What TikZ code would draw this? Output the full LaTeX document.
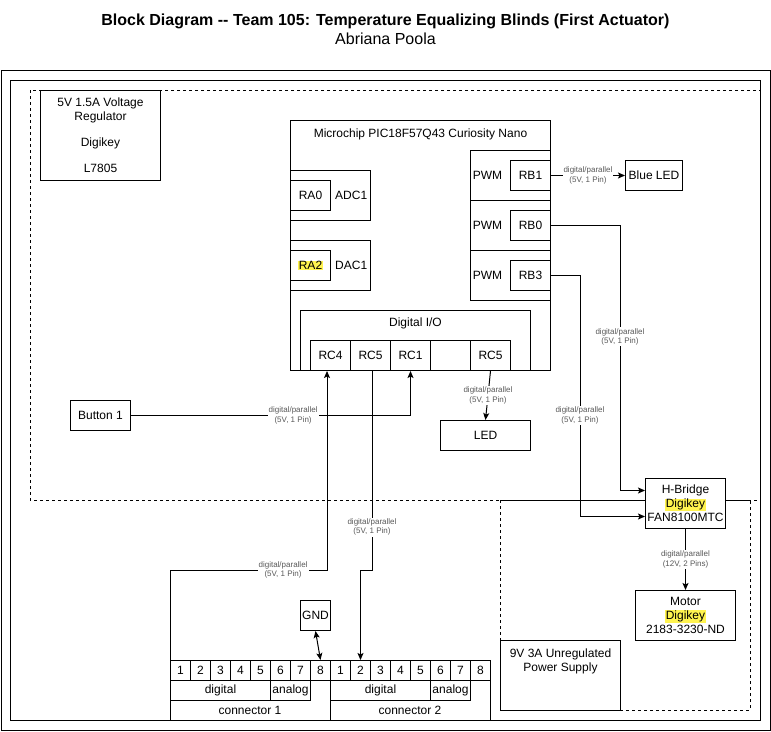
\documentclass[tikz,border=0pt]{standalone}
\usepackage{fontspec}
\setmainfont{Liberation Sans}
\usetikzlibrary{arrows.meta, positioning}

\definecolor{hiliteyellow}{HTML}{FFF34F}
\newcommand{\hilite}[1]{{\setlength{\fboxsep}{0.6pt}\colorbox{hiliteyellow}{#1}}}

\begin{document}
\begin{tikzpicture}[
        x=1pt, y=-1pt,
        >={Stealth[length=7pt, width=6pt, inset=1.5pt]},
        every node/.style={font=\fontsize{12}{14}\selectfont, inner sep=0.5pt},
        box/.style={rectangle, draw, fill=white, line width=1pt, align=center},
        pinbox/.style={box, anchor=north west, minimum width=20pt, minimum height=20pt},
        outline/.style={line width=1pt},
        zone/.style={line width=1pt, dash pattern=on 3pt off 3pt},
        lbl/.style={font=\fontsize{8}{9.3}\selectfont, text=black!65, fill=white, align=center, inner sep=1pt},
        arrow/.style={->, line width=1pt},
        dblarrow/.style={<->, line width=1pt}
    ]
        \useasboundingbox (0,0) rectangle (771,731);

        % title
        \node[font=\bfseries\fontsize{16}{19}\selectfont] (title) at (385.5,21) {Block Diagram -{}- Team 105: Temperature Equalizing Blinds (First Actuator)};
        \node[font=\fontsize{16}{19}\selectfont, below=3pt of title] (author) {Abriana Poola};

        % frames and supply zones
        \draw[outline] (1,70) rectangle (770,730);
        \draw[outline] (10,80) rectangle (760,720);
        \draw[zone] (30,90) rectangle (760,500);
        \draw[zone] (500,500) rectangle (750,710);

        \node[box, anchor=north west, minimum width=120pt, minimum height=90pt] (reg) at (40,90) {5V 1.5A Voltage\\Regulator\\[12pt]Digikey\\[12pt]L7805};

        % microcontroller
        \node[box, anchor=north west, minimum width=260pt, minimum height=250pt] (mcu) at (290,120) {};
        \node[below=8pt of mcu.north] (mcutitle) {Microchip PIC18F57Q43 Curiosity Nano};

        \node[box, anchor=north west, minimum width=80pt, minimum height=50pt] (adc) at (290,170) {};
        \node[box, anchor=north west, minimum width=40pt, minimum height=30pt] (ra0) at (290,180) {RA0};
        \node[right=0pt of ra0, minimum width=40pt] (adc1) {ADC1};
        \node[box, anchor=north west, minimum width=80pt, minimum height=50pt] (dac) at (290,240) {};
        \node[box, anchor=north west, minimum width=40pt, minimum height=30pt] (ra2) at (290,250) {\hilite{RA2}};
        \node[right=0pt of ra2, minimum width=40pt] (dac1) {DAC1};

        \foreach \y/\pin/\txt [count=\k] in {150/rb1/RB1, 200/rb0/RB0, 250/rb3/RB3} {
            \node[box, anchor=north west, minimum width=80pt, minimum height=50pt] (pwmbox\k) at (470,\y) {};
            \node[box, anchor=north west, minimum width=40pt, minimum height=30pt] (\pin) at (510,\y+10) {\txt};
            \node (pwmlbl\k) at (487.5,\y+25) {PWM};
        }

        \node[box, anchor=north west, minimum width=230pt, minimum height=60pt] (dio) at (300,310) {};
        \node[below=7pt of dio.north] (diolbl) {Digital I/O};
        \foreach \x/\pin/\txt in {310/rc4/RC4, 350/rc5/RC5, 390/rc1/RC1, 430/rcx/{}, 470/rc5b/RC5} {
            \node[box, anchor=north west, minimum width=40pt, minimum height=30pt] (\pin) at (\x,340) {\txt};
        }

        % peripherals
        \node[box, anchor=north west, minimum width=57pt, minimum height=30pt] (blueled) at (625,160) {Blue LED};
        \node[box, anchor=north west, minimum width=60pt, minimum height=30pt] (btn) at (70,400) {Button 1};
        \node[box, anchor=north west, minimum width=90pt, minimum height=30pt] (led) at (440,420) {LED};
        \node[box, anchor=north west, minimum width=80pt, minimum height=50pt] (hb) at (645,478) {H-Bridge\\\hilite{Digikey}\\FAN8100MTC};
        \node[box, anchor=north west, minimum width=100pt, minimum height=50pt] (motor) at (635,590) {Motor\\\hilite{Digikey}\\2183-3230-ND};
        \node[box, anchor=north west, minimum width=30pt, minimum height=30pt] (gnd) at (300,600) {GND};
        \node[box, anchor=north west, minimum width=120pt, minimum height=70pt] (psu) at (500,640) {};
        \node[below=8pt of psu.north, align=center] (psulbl) {9V 3A Unregulated\\Power Supply};

        % connectors
        \foreach \c/\x in {1/170, 2/330} {
            \node[box, anchor=north west, minimum width=160pt, minimum height=60pt] (conn\c) at (\x,660) {};
            \node[box, anchor=north west, minimum width=100pt, minimum height=20pt] (dig\c) at (\x,680) {digital};
            \node[box, anchor=north west, minimum width=40pt, minimum height=20pt] (ana\c) at (\x+100,680) {analog};
            \node (connlbl\c) at (\x+80,710) {connector \c};
        }
        \foreach \n in {1,...,16} {
            \pgfmathtruncatemacro{\num}{mod(\n-1,8)+1}
            \node[pinbox] (p\n) at (150+20*\n,660) {\num};
        }

        % links
        \coordinate (bend1) at (327,570);
        \coordinate (bend2) at (372,570);
        \coordinate (hbin1) at ([yshift=13pt]hb.west);
        \coordinate (hbin2) at ([yshift=-13pt]hb.west);

        \draw[arrow] (rb1.east) -- node[lbl]{digital/parallel\\(5V, 1 Pin)} (blueled.west);
        \draw[arrow] (rb0.east) -| node[lbl, pos=0.71]{digital/parallel\\(5V, 1 Pin)} ([xshift=-25pt]hbin1) -- (hbin1);
        \draw[arrow] (rb3.east) -| node[lbl, pos=0.79]{digital/parallel\\(5V, 1 Pin)} ([xshift=-65pt]hbin2) -- (hbin2);
        \draw[arrow] (hb.south) -- node[lbl]{digital/parallel\\(12V, 2 Pins)} (motor.north);
        \draw[arrow] (rc5b.south) -- node[lbl]{digital/parallel\\(5V, 1 Pin)} (led.north);
        \draw[arrow] (btn.east) -| node[lbl, pos=0.29]{digital/parallel\\(5V, 1 Pin)} (rc1.south);
        \draw[arrow] (conn1.north west) |- node[lbl, pos=0.86]{digital/parallel\\(5V, 1 Pin)} (bend1) -- (bend1 |- rc4.south);
        \draw[arrow] (bend2 |- rc5.south) -- node[lbl, pos=0.785]{digital/parallel\\(5V, 1 Pin)} (bend2) -| (p10.north);
        \draw[dblarrow] (gnd.south) -- (p8.north);
    \end{tikzpicture}
\end{document}
